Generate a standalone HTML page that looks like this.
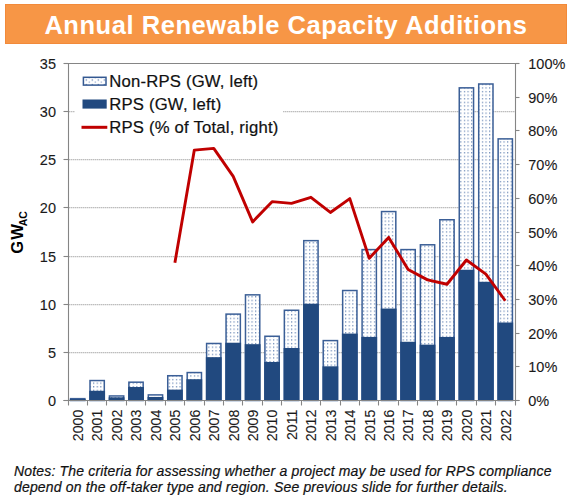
<!DOCTYPE html>
<html><head><meta charset="utf-8"><style>
html,body{margin:0;padding:0;background:#fff;}
body{width:573px;height:498px;overflow:hidden;position:relative;font-family:"Liberation Sans",sans-serif;}
.banner{position:absolute;left:5px;top:4px;width:562px;height:40px;background:#f79646;box-sizing:border-box;border:1px solid #f28a3a;}
.banner span{position:absolute;left:38.4px;top:7.6px;font-size:25.5px;font-weight:bold;color:#fff;letter-spacing:0.55px;white-space:nowrap;line-height:1}
svg{position:absolute;left:0;top:0;}
.ax{font-family:"Liberation Sans",sans-serif;font-size:14.5px;fill:#1a1a1a;stroke:#1a1a1a;stroke-width:0.1px;}
.xl{font-size:14.2px;}
.lg{font-family:"Liberation Sans",sans-serif;font-size:16.7px;fill:#111;letter-spacing:0.2px;stroke:#111;stroke-width:0.2px;}
.yt{font-family:"Liberation Sans",sans-serif;font-size:16.6px;font-weight:bold;fill:#000;letter-spacing:1.2px;}
.sub{font-size:10.5px;letter-spacing:-0.2px;}
.notes{position:absolute;left:14px;top:463px;font-size:14px;font-style:italic;line-height:16.4px;color:#111;white-space:nowrap;letter-spacing:0.17px;-webkit-text-stroke:0.2px #111;}
</style></head><body>
<div class="banner"><span>Annual Renewable Capacity Additions</span></div>
<svg width="573" height="498" viewBox="0 0 573 498">
<defs>
<pattern id="dots" x="-0.55" y="0" width="3.6" height="3.6" patternUnits="userSpaceOnUse">
<rect width="3.6" height="3.6" fill="#fff"/><rect x="0" y="1.0" width="1.2" height="1.2" fill="#6383b3"/>
</pattern>
<pattern id="dots2" x="85" y="78.5" width="6" height="4.6" patternUnits="userSpaceOnUse">
<rect width="6" height="4.6" fill="#fff"/><rect x="0.6" y="0.8" width="1.5" height="1.4" fill="#7d97c0"/><rect x="3.6" y="3.1" width="1.5" height="1.2" fill="#9fb3d3"/>
</pattern>
</defs>
<line x1="69.0" y1="352.7" x2="515.0" y2="352.7" stroke="#bdbdbd" stroke-width="1.2" stroke-dasharray="1.5,0.5"/>
<line x1="69.0" y1="304.7" x2="515.0" y2="304.7" stroke="#bdbdbd" stroke-width="1.2" stroke-dasharray="1.5,0.5"/>
<line x1="69.0" y1="256.7" x2="515.0" y2="256.7" stroke="#bdbdbd" stroke-width="1.2" stroke-dasharray="1.5,0.5"/>
<line x1="69.0" y1="207.7" x2="515.0" y2="207.7" stroke="#bdbdbd" stroke-width="1.2" stroke-dasharray="1.5,0.5"/>
<line x1="69.0" y1="159.7" x2="515.0" y2="159.7" stroke="#bdbdbd" stroke-width="1.2" stroke-dasharray="1.5,0.5"/>
<line x1="69.0" y1="111.7" x2="515.0" y2="111.7" stroke="#bdbdbd" stroke-width="1.2" stroke-dasharray="1.5,0.5"/>
<rect x="75" y="68" width="208" height="72" fill="#fff"/>
<rect x="70.57" y="398.65" width="14.30" height="1.85" fill="url(#dots)" stroke="#3b5f97" stroke-width="1.5"/>
<rect x="69.82" y="399.06" width="15.8" height="1.44" fill="#21497f"/>
<rect x="90.00" y="380.55" width="14.30" height="19.95" fill="url(#dots)" stroke="#3b5f97" stroke-width="1.5"/>
<rect x="89.25" y="390.78" width="15.8" height="9.72" fill="#21497f"/>
<rect x="109.44" y="395.95" width="14.30" height="4.55" fill="url(#dots)" stroke="#3b5f97" stroke-width="1.5"/>
<rect x="108.69" y="397.32" width="15.8" height="3.18" fill="#21497f"/>
<rect x="128.87" y="382.19" width="14.30" height="18.31" fill="url(#dots)" stroke="#3b5f97" stroke-width="1.5"/>
<rect x="128.12" y="387.02" width="15.8" height="13.48" fill="#21497f"/>
<rect x="148.31" y="394.90" width="14.30" height="5.60" fill="url(#dots)" stroke="#3b5f97" stroke-width="1.5"/>
<rect x="147.56" y="396.94" width="15.8" height="3.56" fill="#21497f"/>
<rect x="167.74" y="375.73" width="14.30" height="24.77" fill="url(#dots)" stroke="#3b5f97" stroke-width="1.5"/>
<rect x="166.99" y="389.62" width="15.8" height="10.88" fill="#21497f"/>
<rect x="187.18" y="372.56" width="14.30" height="27.94" fill="url(#dots)" stroke="#3b5f97" stroke-width="1.5"/>
<rect x="186.43" y="379.22" width="15.8" height="21.28" fill="#21497f"/>
<rect x="206.61" y="343.48" width="14.30" height="57.02" fill="url(#dots)" stroke="#3b5f97" stroke-width="1.5"/>
<rect x="205.86" y="357.17" width="15.8" height="43.33" fill="#21497f"/>
<rect x="226.05" y="314.11" width="14.30" height="86.39" fill="url(#dots)" stroke="#3b5f97" stroke-width="1.5"/>
<rect x="225.30" y="342.73" width="15.8" height="57.77" fill="#21497f"/>
<rect x="245.48" y="294.85" width="14.30" height="105.65" fill="url(#dots)" stroke="#3b5f97" stroke-width="1.5"/>
<rect x="244.73" y="344.17" width="15.8" height="56.33" fill="#21497f"/>
<rect x="264.92" y="336.26" width="14.30" height="64.24" fill="url(#dots)" stroke="#3b5f97" stroke-width="1.5"/>
<rect x="264.17" y="361.99" width="15.8" height="38.51" fill="#21497f"/>
<rect x="284.35" y="310.26" width="14.30" height="90.24" fill="url(#dots)" stroke="#3b5f97" stroke-width="1.5"/>
<rect x="283.60" y="348.02" width="15.8" height="52.48" fill="#21497f"/>
<rect x="303.78" y="240.65" width="14.30" height="159.85" fill="url(#dots)" stroke="#3b5f97" stroke-width="1.5"/>
<rect x="303.03" y="303.73" width="15.8" height="96.77" fill="#21497f"/>
<rect x="323.22" y="340.59" width="14.30" height="59.91" fill="url(#dots)" stroke="#3b5f97" stroke-width="1.5"/>
<rect x="322.47" y="366.32" width="15.8" height="34.18" fill="#21497f"/>
<rect x="342.65" y="290.52" width="14.30" height="109.98" fill="url(#dots)" stroke="#3b5f97" stroke-width="1.5"/>
<rect x="341.90" y="333.58" width="15.8" height="66.92" fill="#21497f"/>
<rect x="362.09" y="249.60" width="14.30" height="150.90" fill="url(#dots)" stroke="#3b5f97" stroke-width="1.5"/>
<rect x="361.34" y="336.95" width="15.8" height="63.55" fill="#21497f"/>
<rect x="381.52" y="211.57" width="14.30" height="188.93" fill="url(#dots)" stroke="#3b5f97" stroke-width="1.5"/>
<rect x="380.77" y="308.55" width="15.8" height="91.95" fill="#21497f"/>
<rect x="400.96" y="249.60" width="14.30" height="150.90" fill="url(#dots)" stroke="#3b5f97" stroke-width="1.5"/>
<rect x="400.21" y="341.77" width="15.8" height="58.73" fill="#21497f"/>
<rect x="420.39" y="244.79" width="14.30" height="155.71" fill="url(#dots)" stroke="#3b5f97" stroke-width="1.5"/>
<rect x="419.64" y="344.65" width="15.8" height="55.85" fill="#21497f"/>
<rect x="439.83" y="219.75" width="14.30" height="180.75" fill="url(#dots)" stroke="#3b5f97" stroke-width="1.5"/>
<rect x="439.08" y="336.95" width="15.8" height="63.55" fill="#21497f"/>
<rect x="459.26" y="87.84" width="14.30" height="312.66" fill="url(#dots)" stroke="#3b5f97" stroke-width="1.5"/>
<rect x="458.51" y="269.74" width="15.8" height="130.76" fill="#21497f"/>
<rect x="478.70" y="83.99" width="14.30" height="316.51" fill="url(#dots)" stroke="#3b5f97" stroke-width="1.5"/>
<rect x="477.95" y="281.78" width="15.8" height="118.72" fill="#21497f"/>
<rect x="498.13" y="138.87" width="14.30" height="261.63" fill="url(#dots)" stroke="#3b5f97" stroke-width="1.5"/>
<rect x="497.38" y="322.51" width="15.8" height="77.99" fill="#21497f"/>
<line x1="68.0" y1="63.5" x2="516.0" y2="63.5" stroke="#858585" stroke-width="1.1"/>
<line x1="68.5" y1="63.5" x2="68.5" y2="400.5" stroke="#858585" stroke-width="1.1"/>
<line x1="515.5" y1="63.5" x2="515.5" y2="400.5" stroke="#858585" stroke-width="1.1"/>
<line x1="63.5" y1="400.5" x2="519.5" y2="400.5" stroke="#858585" stroke-width="1.1"/>
<line x1="63.5" y1="400.5" x2="68.0" y2="400.5" stroke="#858585" stroke-width="1.1"/>
<text x="56" y="405.70" text-anchor="end" class="ax">0</text>
<line x1="63.5" y1="352.5" x2="68.0" y2="352.5" stroke="#858585" stroke-width="1.1"/>
<text x="56" y="357.70" text-anchor="end" class="ax">5</text>
<line x1="63.5" y1="304.5" x2="68.0" y2="304.5" stroke="#858585" stroke-width="1.1"/>
<text x="56" y="309.70" text-anchor="end" class="ax">10</text>
<line x1="63.5" y1="256.5" x2="68.0" y2="256.5" stroke="#858585" stroke-width="1.1"/>
<text x="56" y="261.70" text-anchor="end" class="ax">15</text>
<line x1="63.5" y1="207.5" x2="68.0" y2="207.5" stroke="#858585" stroke-width="1.1"/>
<text x="56" y="212.70" text-anchor="end" class="ax">20</text>
<line x1="63.5" y1="159.5" x2="68.0" y2="159.5" stroke="#858585" stroke-width="1.1"/>
<text x="56" y="164.70" text-anchor="end" class="ax">25</text>
<line x1="63.5" y1="111.5" x2="68.0" y2="111.5" stroke="#858585" stroke-width="1.1"/>
<text x="56" y="116.70" text-anchor="end" class="ax">30</text>
<line x1="63.5" y1="63.5" x2="68.0" y2="63.5" stroke="#858585" stroke-width="1.1"/>
<text x="56" y="68.70" text-anchor="end" class="ax">35</text>
<line x1="516.0" y1="400.5" x2="519.5" y2="400.5" stroke="#858585" stroke-width="1.1"/>
<text x="528.3" y="405.70" class="ax">0%</text>
<line x1="516.0" y1="366.5" x2="519.5" y2="366.5" stroke="#858585" stroke-width="1.1"/>
<text x="528.3" y="371.70" class="ax">10%</text>
<line x1="516.0" y1="333.5" x2="519.5" y2="333.5" stroke="#858585" stroke-width="1.1"/>
<text x="528.3" y="338.70" class="ax">20%</text>
<line x1="516.0" y1="299.5" x2="519.5" y2="299.5" stroke="#858585" stroke-width="1.1"/>
<text x="528.3" y="304.70" class="ax">30%</text>
<line x1="516.0" y1="265.5" x2="519.5" y2="265.5" stroke="#858585" stroke-width="1.1"/>
<text x="528.3" y="270.70" class="ax">40%</text>
<line x1="516.0" y1="232.5" x2="519.5" y2="232.5" stroke="#858585" stroke-width="1.1"/>
<text x="528.3" y="237.70" class="ax">50%</text>
<line x1="516.0" y1="198.5" x2="519.5" y2="198.5" stroke="#858585" stroke-width="1.1"/>
<text x="528.3" y="203.70" class="ax">60%</text>
<line x1="516.0" y1="164.5" x2="519.5" y2="164.5" stroke="#858585" stroke-width="1.1"/>
<text x="528.3" y="169.70" class="ax">70%</text>
<line x1="516.0" y1="130.5" x2="519.5" y2="130.5" stroke="#858585" stroke-width="1.1"/>
<text x="528.3" y="135.70" class="ax">80%</text>
<line x1="516.0" y1="97.5" x2="519.5" y2="97.5" stroke="#858585" stroke-width="1.1"/>
<text x="528.3" y="102.70" class="ax">90%</text>
<line x1="516.0" y1="63.5" x2="519.5" y2="63.5" stroke="#858585" stroke-width="1.1"/>
<text x="528.3" y="68.70" class="ax">100%</text>
<line x1="87.5" y1="400.5" x2="87.5" y2="405.5" stroke="#858585" stroke-width="1.1"/>
<line x1="106.5" y1="400.5" x2="106.5" y2="405.5" stroke="#858585" stroke-width="1.1"/>
<line x1="126.5" y1="400.5" x2="126.5" y2="405.5" stroke="#858585" stroke-width="1.1"/>
<line x1="145.5" y1="400.5" x2="145.5" y2="405.5" stroke="#858585" stroke-width="1.1"/>
<line x1="165.5" y1="400.5" x2="165.5" y2="405.5" stroke="#858585" stroke-width="1.1"/>
<line x1="184.5" y1="400.5" x2="184.5" y2="405.5" stroke="#858585" stroke-width="1.1"/>
<line x1="204.5" y1="400.5" x2="204.5" y2="405.5" stroke="#858585" stroke-width="1.1"/>
<line x1="223.5" y1="400.5" x2="223.5" y2="405.5" stroke="#858585" stroke-width="1.1"/>
<line x1="242.5" y1="400.5" x2="242.5" y2="405.5" stroke="#858585" stroke-width="1.1"/>
<line x1="262.5" y1="400.5" x2="262.5" y2="405.5" stroke="#858585" stroke-width="1.1"/>
<line x1="281.5" y1="400.5" x2="281.5" y2="405.5" stroke="#858585" stroke-width="1.1"/>
<line x1="301.5" y1="400.5" x2="301.5" y2="405.5" stroke="#858585" stroke-width="1.1"/>
<line x1="320.5" y1="400.5" x2="320.5" y2="405.5" stroke="#858585" stroke-width="1.1"/>
<line x1="340.5" y1="400.5" x2="340.5" y2="405.5" stroke="#858585" stroke-width="1.1"/>
<line x1="359.5" y1="400.5" x2="359.5" y2="405.5" stroke="#858585" stroke-width="1.1"/>
<line x1="378.5" y1="400.5" x2="378.5" y2="405.5" stroke="#858585" stroke-width="1.1"/>
<line x1="398.5" y1="400.5" x2="398.5" y2="405.5" stroke="#858585" stroke-width="1.1"/>
<line x1="417.5" y1="400.5" x2="417.5" y2="405.5" stroke="#858585" stroke-width="1.1"/>
<line x1="437.5" y1="400.5" x2="437.5" y2="405.5" stroke="#858585" stroke-width="1.1"/>
<line x1="456.5" y1="400.5" x2="456.5" y2="405.5" stroke="#858585" stroke-width="1.1"/>
<line x1="476.5" y1="400.5" x2="476.5" y2="405.5" stroke="#858585" stroke-width="1.1"/>
<line x1="495.5" y1="400.5" x2="495.5" y2="405.5" stroke="#858585" stroke-width="1.1"/>
<line x1="68.5" y1="400.5" x2="68.5" y2="405.5" stroke="#858585" stroke-width="1.1"/>
<line x1="515.5" y1="400.5" x2="515.5" y2="405.5" stroke="#858585" stroke-width="1.1"/>
<text transform="translate(83.02,409.6) rotate(-90)" text-anchor="end" class="ax xl">2000</text>
<text transform="translate(102.45,409.6) rotate(-90)" text-anchor="end" class="ax xl">2001</text>
<text transform="translate(121.89,409.6) rotate(-90)" text-anchor="end" class="ax xl">2002</text>
<text transform="translate(141.32,409.6) rotate(-90)" text-anchor="end" class="ax xl">2003</text>
<text transform="translate(160.76,409.6) rotate(-90)" text-anchor="end" class="ax xl">2004</text>
<text transform="translate(180.19,409.6) rotate(-90)" text-anchor="end" class="ax xl">2005</text>
<text transform="translate(199.63,409.6) rotate(-90)" text-anchor="end" class="ax xl">2006</text>
<text transform="translate(219.06,409.6) rotate(-90)" text-anchor="end" class="ax xl">2007</text>
<text transform="translate(238.50,409.6) rotate(-90)" text-anchor="end" class="ax xl">2008</text>
<text transform="translate(257.93,409.6) rotate(-90)" text-anchor="end" class="ax xl">2009</text>
<text transform="translate(277.37,409.6) rotate(-90)" text-anchor="end" class="ax xl">2010</text>
<text transform="translate(296.80,409.6) rotate(-90)" text-anchor="end" class="ax xl">2011</text>
<text transform="translate(316.23,409.6) rotate(-90)" text-anchor="end" class="ax xl">2012</text>
<text transform="translate(335.67,409.6) rotate(-90)" text-anchor="end" class="ax xl">2013</text>
<text transform="translate(355.10,409.6) rotate(-90)" text-anchor="end" class="ax xl">2014</text>
<text transform="translate(374.54,409.6) rotate(-90)" text-anchor="end" class="ax xl">2015</text>
<text transform="translate(393.97,409.6) rotate(-90)" text-anchor="end" class="ax xl">2016</text>
<text transform="translate(413.41,409.6) rotate(-90)" text-anchor="end" class="ax xl">2017</text>
<text transform="translate(432.84,409.6) rotate(-90)" text-anchor="end" class="ax xl">2018</text>
<text transform="translate(452.28,409.6) rotate(-90)" text-anchor="end" class="ax xl">2019</text>
<text transform="translate(471.71,409.6) rotate(-90)" text-anchor="end" class="ax xl">2020</text>
<text transform="translate(491.15,409.6) rotate(-90)" text-anchor="end" class="ax xl">2021</text>
<text transform="translate(510.58,409.6) rotate(-90)" text-anchor="end" class="ax xl">2022</text>
<polyline points="174.89,262.67 194.33,150.11 213.76,148.42 233.20,176.40 252.63,221.89 272.07,201.67 291.50,203.35 310.93,197.29 330.37,212.45 349.80,198.64 369.24,258.29 388.67,237.39 408.11,269.41 427.54,279.85 446.98,284.24 466.41,259.97 485.85,274.12 505.28,300.75" fill="none" stroke="#c00000" stroke-width="2.9" stroke-linejoin="round"/>
<rect x="83.4" y="77.3" width="22.6" height="7.8" fill="url(#dots2)" stroke="#335891" stroke-width="1.5"/>
<rect x="82.5" y="99.5" width="24.2" height="9.1" fill="#21497f"/>
<line x1="81.5" y1="127.3" x2="107.3" y2="127.3" stroke="#c00000" stroke-width="3"/>
<text x="109.2" y="86.8" class="lg">Non-RPS (GW, left)</text>
<text x="109.2" y="109.7" class="lg">RPS (GW, left)</text>
<text x="109.2" y="132.9" class="lg">RPS (% of Total, right)</text>
<text transform="translate(22.9,253.8) rotate(-90)" class="yt">GW</text>
<text transform="translate(26.9,226.2) rotate(-90)" class="yt sub">AC</text>
</svg>
<div class="notes">Notes: The criteria for assessing whether a project may be used for RPS compliance<br>depend on the off-taker type and region. See previous slide for further details.</div>
</body></html>
